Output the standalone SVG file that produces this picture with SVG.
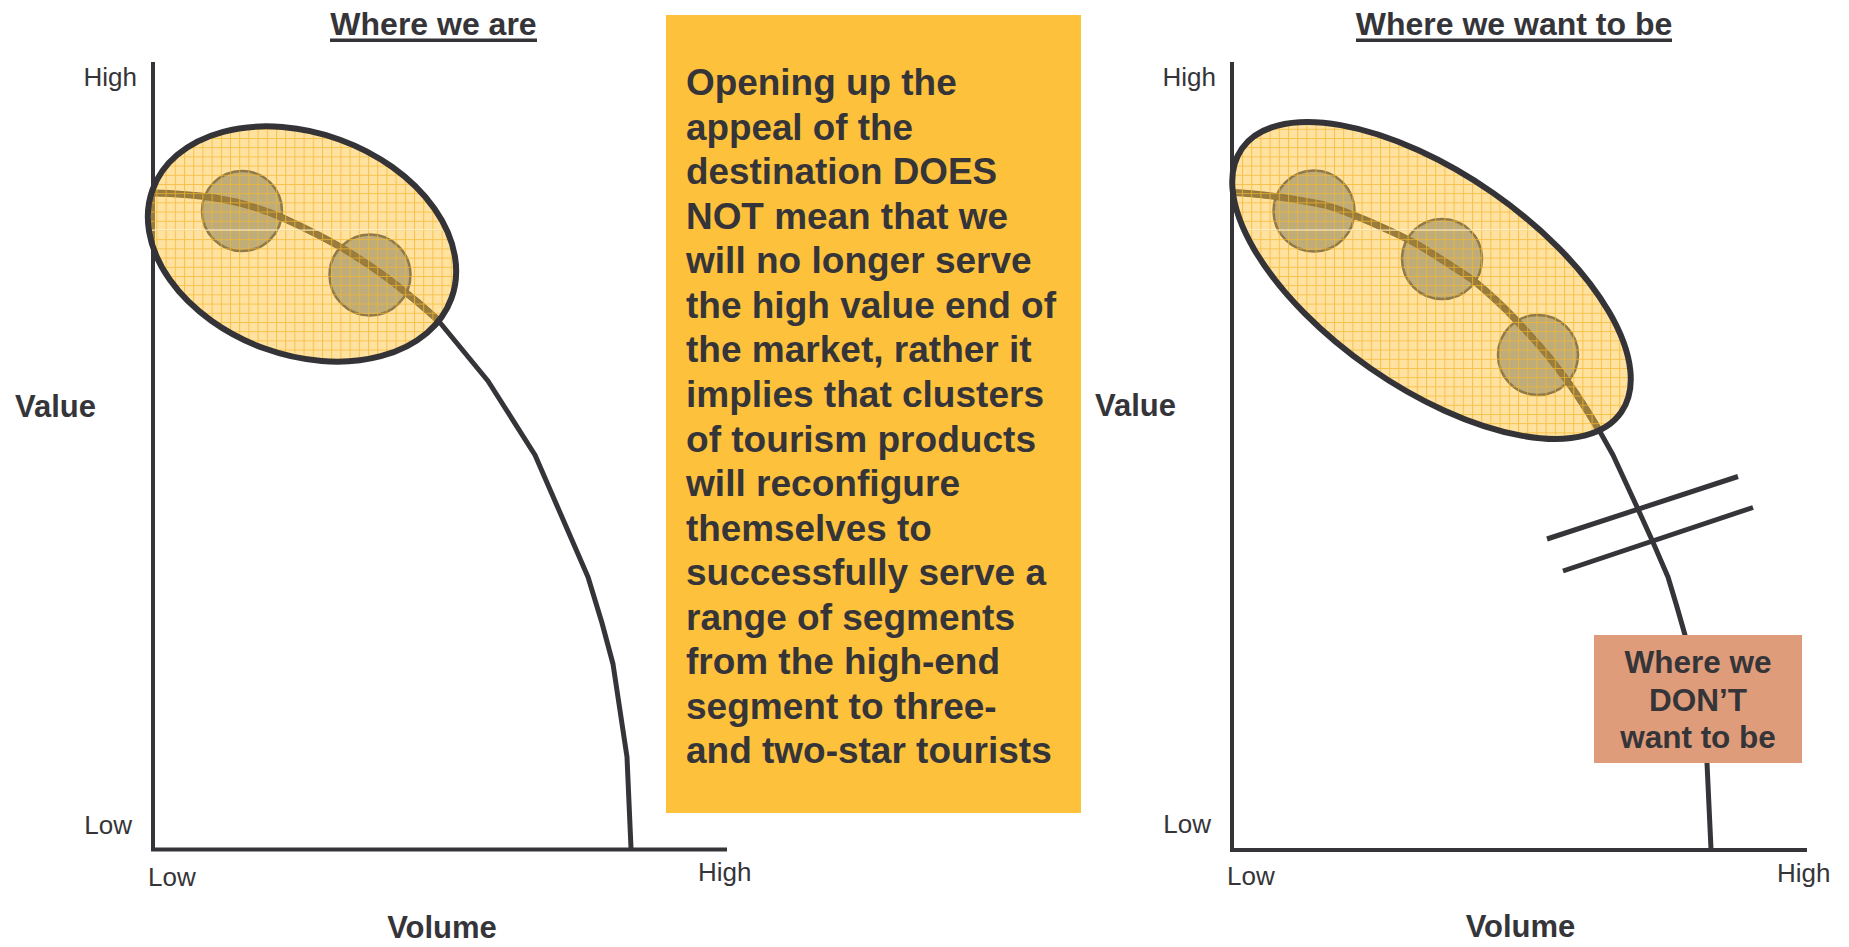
<svg xmlns="http://www.w3.org/2000/svg" width="1849" height="947" viewBox="0 0 1849 947">
<defs>
<pattern id="grid" patternUnits="userSpaceOnUse" width="9.2" height="9.2">
<path d="M0 0.5H9.2M0.5 0V9.2" stroke="#F4B52C" stroke-width="1" opacity="0.75" fill="none"/>
</pattern>
<clipPath id="clipL"><ellipse cx="302" cy="244" rx="159" ry="111" transform="rotate(20 302 244)"/></clipPath>
<clipPath id="clipR"><ellipse cx="1431.5" cy="280.5" rx="231" ry="107" transform="rotate(34.8 1431.5 280.5)"/></clipPath>
</defs>
<style>
.t{font-family:"Liberation Sans",Arial,Helvetica,sans-serif;fill:#353539}
.title{font-size:32px;font-weight:bold}
.ax{font-size:26px}
.lab{font-size:31px;font-weight:bold}
.axis{stroke:#353539;stroke-width:4;fill:none}
.curve{stroke:#353539;stroke-width:5;fill:none;stroke-linejoin:round;stroke-linecap:butt}
.inner{stroke:#2E2A26;stroke-width:7;fill:none;stroke-linejoin:round}
.efill{fill:#FFC542;fill-opacity:0.5}
.egrid{fill:url(#grid)}
.estroke{fill:none;stroke:#343337;stroke-width:6}
.circ{fill:#7D92B4;stroke:#1E2D4E;stroke-width:2.5}
.mid{font-size:36px;font-weight:bold}
.dont{font-size:31.5px;font-weight:bold}
</style>
<rect width="1849" height="947" fill="#FFFFFF"/>

<g id="left-chart">
<text class="t title" x="433.5" y="35" text-anchor="middle">Where we are</text>
<rect x="330" y="38.5" width="207" height="3.5" fill="#353539"/>
<text class="t ax" x="137" y="86" text-anchor="end">High</text>
<text class="t ax" x="132" y="834" text-anchor="end">Low</text>
<text class="t ax" x="148" y="886">Low</text>
<text class="t ax" x="698" y="881">High</text>
<text class="t lab" x="15" y="417">Value</text>
<text class="t lab" x="442" y="938" text-anchor="middle">Volume</text>
<g id="left-circles">
<circle class="circ" cx="242" cy="211" r="40"/>
<circle class="circ" cx="370" cy="275" r="40.5"/>
</g>
<path class="axis" d="M153 62V849.5H727"/>
<g id="left-curve">
<path class="inner" clip-path="url(#clipL)" d="M153 193 C175 193.5 195 195 215 198 C240 202 263 209 283 218 C305 228 325 238 343 248.5 C362 260 380 272 397 285.5 C412 297 425 308 438 320"/>
<polyline class="curve" points="152,192.7 201.7,196 230,200 263.3,210 283.3,218.3 306.7,230 343.3,248.3 370,265 396.7,285 420,305 437,319 488,381 535,455 588,577 602,623 613,664 627,757 631,848"/>
</g>
<g id="left-ellipse">
<ellipse class="efill" cx="302" cy="244" rx="159" ry="111" transform="rotate(20 302 244)"/>
<rect class="egrid" x="130" y="120" width="340" height="250" clip-path="url(#clipL)"/>
<line x1="152" y1="230" x2="455" y2="230" stroke="#FFFFFF" stroke-width="1.2" opacity="0.8" clip-path="url(#clipL)"/>
<ellipse class="estroke" cx="302" cy="244" rx="159" ry="111" transform="rotate(20 302 244)"/>
</g>
</g>

<g id="message-box">
<rect x="666" y="15" width="415" height="798" fill="#FDC13C"/>
<text class="t mid" x="686" y="95" textLength="270.7" lengthAdjust="spacingAndGlyphs">Opening up the</text>
<text class="t mid" x="686" y="139.6" textLength="227" lengthAdjust="spacingAndGlyphs">appeal of the</text>
<text class="t mid" x="686" y="184.1" textLength="311" lengthAdjust="spacingAndGlyphs">destination DOES</text>
<text class="t mid" x="686" y="228.7" textLength="322" lengthAdjust="spacingAndGlyphs">NOT mean that we</text>
<text class="t mid" x="686" y="273.2" textLength="345.7" lengthAdjust="spacingAndGlyphs">will no longer serve</text>
<text class="t mid" x="686" y="317.8" textLength="370" lengthAdjust="spacingAndGlyphs">the high value end of</text>
<text class="t mid" x="686" y="362.4" textLength="345.7" lengthAdjust="spacingAndGlyphs">the market, rather it</text>
<text class="t mid" x="686" y="406.9" textLength="358" lengthAdjust="spacingAndGlyphs">implies that clusters</text>
<text class="t mid" x="686" y="451.5" textLength="350" lengthAdjust="spacingAndGlyphs">of tourism products</text>
<text class="t mid" x="686" y="496" textLength="274" lengthAdjust="spacingAndGlyphs">will reconfigure</text>
<text class="t mid" x="686" y="540.6" textLength="245.7" lengthAdjust="spacingAndGlyphs">themselves to</text>
<text class="t mid" x="686" y="585.2" textLength="360" lengthAdjust="spacingAndGlyphs">successfully serve a</text>
<text class="t mid" x="686" y="629.7" textLength="329" lengthAdjust="spacingAndGlyphs">range of segments</text>
<text class="t mid" x="686" y="674.3" textLength="314" lengthAdjust="spacingAndGlyphs">from the high-end</text>
<text class="t mid" x="686" y="718.8" textLength="310.7" lengthAdjust="spacingAndGlyphs">segment to three-</text>
<text class="t mid" x="686" y="763.4" textLength="365.7" lengthAdjust="spacingAndGlyphs">and two-star tourists</text>
</g>

<g id="right-chart">
<text class="t title" x="1514" y="35" text-anchor="middle">Where we want to be</text>
<rect x="1356" y="38.5" width="316" height="3.5" fill="#353539"/>
<text class="t ax" x="1216" y="86" text-anchor="end">High</text>
<text class="t ax" x="1211" y="833" text-anchor="end">Low</text>
<text class="t ax" x="1227" y="885">Low</text>
<text class="t ax" x="1777" y="882">High</text>
<text class="t lab" x="1176" y="416" text-anchor="end">Value</text>
<text class="t lab" x="1520.5" y="937" text-anchor="middle">Volume</text>
<g id="right-circles">
<circle class="circ" cx="1314" cy="211" r="40.5"/>
<circle class="circ" cx="1442" cy="259" r="40"/>
<circle class="circ" cx="1538" cy="355" r="40"/>
</g>
<path class="axis" d="M1232 62V850H1807"/>
<g id="right-curve">
<path class="inner" clip-path="url(#clipR)" d="M1233 192.5 C1260 193.5 1290 198 1325 205 C1350 212 1390 230 1415 243 C1440 258 1455 268 1473 280 C1490 294 1503 306 1516 320 C1530 335 1540 346 1549 357 C1560 371 1567 380 1575 392 C1585 407 1592 418 1600 432"/>
<polyline class="curve" points="1233,192.5 1277,197 1325,205 1368,222 1415,243 1473,280 1516,320 1549,357 1575,392 1599,430 1613,455 1637,507 1652,540 1668,577 1677,607 1685,635 1707,763 1711,849"/>
</g>
<g id="right-ellipse">
<ellipse class="efill" cx="1431.5" cy="280.5" rx="231" ry="107" transform="rotate(34.8 1431.5 280.5)"/>
<rect class="egrid" x="1220" y="110" width="430" height="340" clip-path="url(#clipR)"/>
<line x1="1236" y1="230" x2="1535" y2="230" stroke="#FFFFFF" stroke-width="1.2" opacity="0.8" clip-path="url(#clipR)"/>
<ellipse class="estroke" cx="1431.5" cy="280.5" rx="231" ry="107" transform="rotate(34.8 1431.5 280.5)"/>
</g>
<g id="break-marks">
<line x1="1547" y1="539" x2="1738" y2="476.5" stroke="#353539" stroke-width="5"/>
<line x1="1563" y1="571" x2="1753" y2="507.5" stroke="#353539" stroke-width="5"/>
</g>
<g id="dont-box">
<rect x="1594" y="635" width="208" height="128" fill="#DE9C7A"/>
<text class="t dont" x="1698" y="673" text-anchor="middle">Where we</text>
<text class="t dont" x="1698" y="710.5" text-anchor="middle">DON’T</text>
<text class="t dont" x="1698" y="748" text-anchor="middle">want to be</text>
</g>
</g>
</svg>
